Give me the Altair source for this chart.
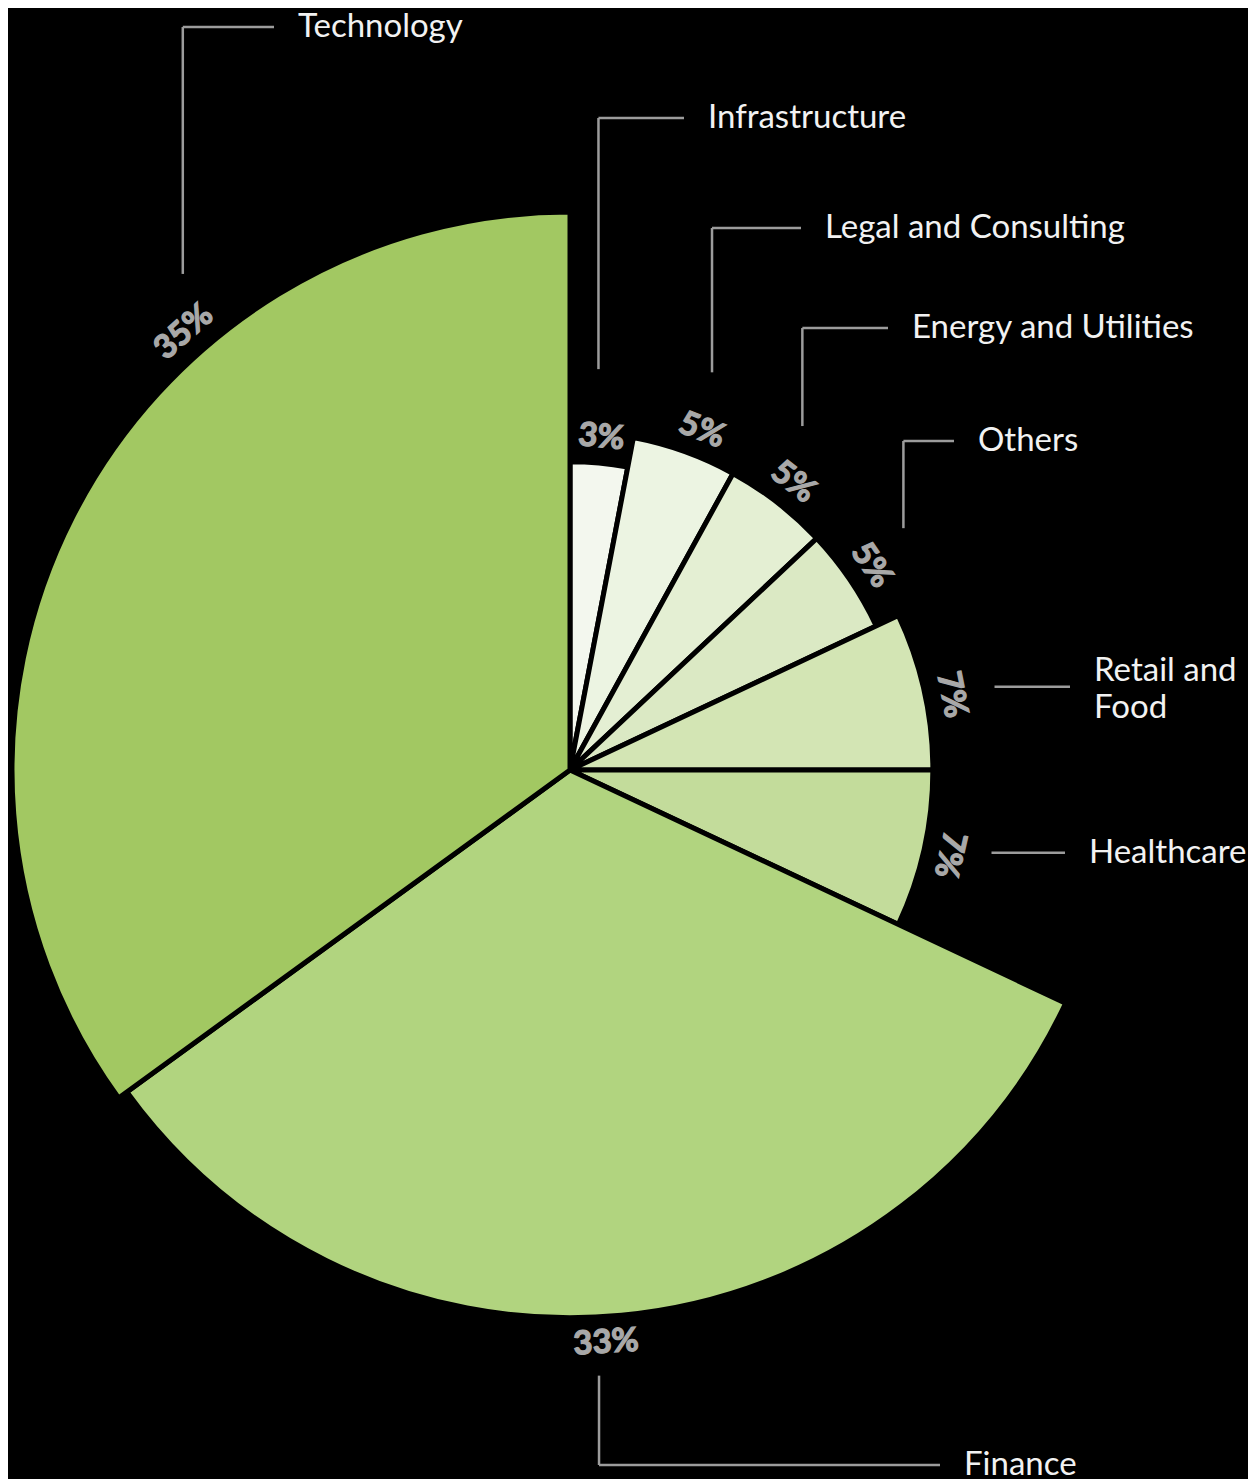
import math
import altair as alt
import pandas as pd

# ---------------- data ----------------
categories = ["Infrastructure", "Legal and Consulting", "Energy and Utilities", "Others",
              "Retail and Food", "Healthcare", "Finance", "Technology"]
values = [3, 5, 5, 5, 7, 7, 33, 35]
label_texts = ["Infrastructure", "Legal and Consulting", "Energy and Utilities", "Others",
               "Retail and\nFood", "Healthcare", "Finance", "Technology"]

# ---------------- styling / layout ----------------
colors = ["#f3f7ee", "#ecf4e2", "#e4efd3", "#dbe9c4", "#d3e5b4", "#c3dc9b", "#b1d47f", "#a2c862"]
W, H = 1240, 1471
CX, CY = 562, 762              # pie centre (px)
R_RANGE = [205, 558]           # radius scale range (sqrt scale)
PCT_OFFSET = 26                # % label distance beyond slice edge
label_nudge = [0, 0.4, 0, 0, 0.4, 0, 0.5, 6]     # label shift along circle (percent units)
leader_dir = ["up", "up", "up", "up", "right", "right", "down", "up"]
leader_off = [(-3, -68), (10, -58), (9, -56), (32, -37), (43, -8), (42, -2), (-7, 33), (-1, -58)]
row_y = [110, 220, 320, 433, None, None, 1457, 19]
text_x = [700, 817, 904, 970, 1086, 1081, 956, 290]
TEXT_GAP = 24
LINE_H = 37

# ---------------- derived table ----------------
total = sum(values)
vmax = max(values)
rows, seg_rows, lab_rows = [], [], []
cum = 0.0
for i, (c, v) in enumerate(zip(categories, values)):
    mid = cum + v / 2.0
    cum += v
    pos = mid + label_nudge[i]
    deg = pos / total * 360.0
    tang = deg - 180.0 if 120.0 < deg < 240.0 else deg
    tang = tang % 360.0
    rows.append({"idx": i, "category": c, "value": v, "pct": f"{v}%",
                 "label_pos": pos, "text_angle": tang})

    # geometry of the % label (mirrors the radius scale) for the call-out leaders
    r = R_RANGE[0] + (R_RANGE[1] - R_RANGE[0]) * math.sqrt(v / vmax) + PCT_OFFSET
    a = math.radians(deg)
    px = CX + r * math.sin(a)
    py = CY - r * math.cos(a)
    sx, sy = px + leader_off[i][0], py + leader_off[i][1]
    d = leader_dir[i]
    if d in ("up", "down"):
        seg_rows.append({"x": sx, "y": sy, "x2": sx, "y2": row_y[i]})
        seg_rows.append({"x": sx, "y": row_y[i], "x2": text_x[i] - TEXT_GAP, "y2": row_y[i]})
        ty = row_y[i]
    else:
        seg_rows.append({"x": sx, "y": sy, "x2": text_x[i] - TEXT_GAP, "y2": sy})
        ty = sy
    n_lines = label_texts[i].count("\n") + 1
    if n_lines > 1:
        ty = ty - (n_lines - 1) * LINE_H / 2.0 + 3
    lab_rows.append({"tx": text_x[i], "ty": ty, "label": label_texts[i]})

df = pd.DataFrame(rows)
seg_df = pd.DataFrame(seg_rows)
lab_df = pd.DataFrame(lab_rows)

theta_scale = alt.Scale(domain=[0, total])
radius_scale = alt.Scale(type="sqrt", zero=True, range=R_RANGE)

base = alt.Chart(df)

arcs = base.mark_arc(stroke="black", strokeWidth=5, strokeJoin="round").encode(
    theta=alt.Theta("value:Q", stack=True, scale=theta_scale),
    radius=alt.Radius("value:Q", scale=radius_scale),
    radius2=alt.value(0),
    color=alt.Color("category:N", scale=alt.Scale(domain=categories, range=colors), legend=None),
    order=alt.Order("idx:Q"),
    x=alt.value(CX),
    y=alt.value(CY),
)

pct = base.mark_text(font="Lato", fontSize=33, fontWeight="bold", color="#a8a8a8",
                     stroke="#a8a8a8", strokeWidth=1.3,
                     radiusOffset=PCT_OFFSET, align="center", baseline="middle").encode(
    theta=alt.Theta("label_pos:Q", scale=theta_scale),
    radius=alt.Radius("value:Q", scale=radius_scale),
    text=alt.Text("pct:N"),
    angle=alt.Angle("text_angle:Q", scale=None),
    x=alt.value(CX),
    y=alt.value(CY),
)

leaders = alt.Chart(seg_df).mark_rule(color="#9c9c9c", strokeWidth=2.5).encode(
    x=alt.X("x:Q", scale=None, axis=None),
    x2="x2:Q",
    y=alt.Y("y:Q", scale=None, axis=None),
    y2="y2:Q",
)

names = alt.Chart(lab_df).mark_text(font="Lato", fontSize=33, color="#f2f2f2", align="left",
                                    baseline="middle", lineBreak="\n", lineHeight=LINE_H).encode(
    x=alt.X("tx:Q", scale=None, axis=None),
    y=alt.Y("ty:Q", scale=None, axis=None),
    text=alt.Text("label:N"),
)

chart = alt.layer(arcs, pct, leaders, names).properties(
    width=W, height=H, autosize=alt.AutoSizeParams(type="none"), padding=0,
    background="black",
).configure_view(stroke=None)

chart.save("out.html", embed_options={"renderer": "svg", "actions": False})
